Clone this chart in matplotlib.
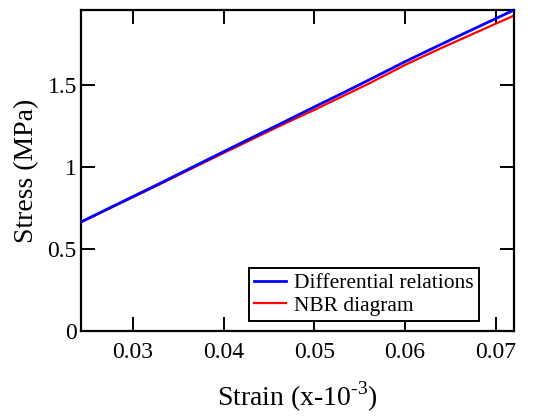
import matplotlib
matplotlib.use('Agg')
import matplotlib.pyplot as plt

# values
strain = [0.0243, 0.027, 0.030, 0.033, 0.036, 0.040, 0.043, 0.046, 0.050, 0.053, 0.056, 0.060, 0.063, 0.066, 0.069, 0.072]
stress_diff = [0.665, 0.738, 0.819, 0.900, 0.983, 1.093, 1.175, 1.256, 1.366, 1.447, 1.530, 1.642, 1.722, 1.801, 1.879, 1.957]
stress_nbr = [0.663, 0.735, 0.815, 0.895, 0.977, 1.085, 1.165, 1.245, 1.348, 1.428, 1.508, 1.622, 1.700, 1.775, 1.849, 1.923]

plt.rcParams['font.family'] = ['Liberation Serif', 'DejaVu Serif']
plt.rcParams['mathtext.fontset'] = 'custom'
plt.rcParams['mathtext.rm'] = 'Liberation Serif'

fig = plt.figure(figsize=(5.47, 4.16), dpi=100)
ax = fig.add_axes([81 / 547, 1 - 331 / 416, (514 - 81) / 547, (331 - 10) / 416])

ax.plot(strain, stress_diff, color='#0000ff', lw=2.0, label='Differential relations', zorder=3)
ax.plot(strain, stress_nbr, color='#ff0000', lw=1.6, label='NBR diagram', zorder=2)

ax.set_xlim(0.0243, 0.072)
ax.set_ylim(0, 1.957)
ax.set_xticks([0.03, 0.04, 0.05, 0.06, 0.07])
ax.set_xticklabels(['0.03', '0.04', '0.05', '0.06', '0.07'])
ax.set_yticks([0, 0.5, 1, 1.5])
ax.set_yticklabels(['0', '0.5', '1', '1.5'])

ax.tick_params(direction='in', length=10, width=1.4, top=True, right=True, labelsize=17)
ax.tick_params(axis='x', pad=8)
ax.tick_params(axis='y', pad=3)
for s in ax.spines.values():
    s.set_linewidth(1.6)

ax.set_xlabel(r'Strain (x-10$^{\text{-3}}$)', fontsize=20, labelpad=12)
ax.set_ylabel('Stress (MPa)', fontsize=20, labelpad=6)

leg = ax.legend(loc='lower right', bbox_to_anchor=(479 / 547, 1 - 321 / 416),
                bbox_transform=fig.transFigure, borderaxespad=0,
                fontsize=15.5, fancybox=False, edgecolor='black',
                framealpha=1, handlelength=1.5, handletextpad=0.35,
                borderpad=0.25, labelspacing=0.1)
leg.get_frame().set_linewidth(1.4)

fig.savefig('out.png', dpi=100)
